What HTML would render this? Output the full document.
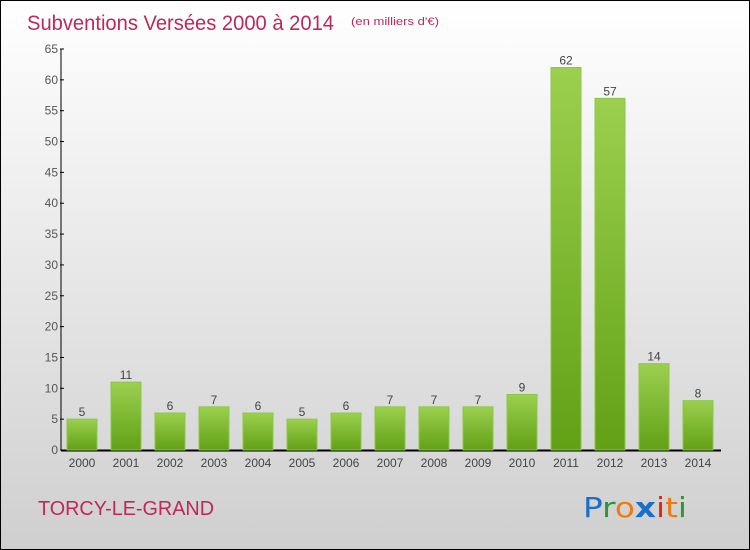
<!DOCTYPE html>
<html><head><meta charset="utf-8"><style>
body{margin:0}
#wrap{position:relative;width:748px;height:548px;border:1px solid #000;background:linear-gradient(#ffffff,#cfcfcf);font-family:"Liberation Sans",sans-serif;overflow:hidden}
</style></head><body>
<div id="wrap">
<svg id="svg" width="748" height="548" style="position:absolute;left:0;top:0">
<defs><linearGradient id="g" x1="0" y1="0" x2="0" y2="1"><stop offset="0" stop-color="#9bd04e"/><stop offset="1" stop-color="#62a016"/></linearGradient></defs>
<text x="26" y="29" font-size="21" fill="#c0275a" textLength="307" lengthAdjust="spacingAndGlyphs">Subventions Versées 2000 à 2014</text>
<text x="350" y="24" font-size="11" fill="#c0275a" textLength="88" lengthAdjust="spacingAndGlyphs">(en milliers d'€)</text>
<text x="37" y="514" font-size="20" fill="#c0275a" textLength="176" lengthAdjust="spacingAndGlyphs">TORCY-LE-GRAND</text>
<g font-size="28" font-family="DejaVu Sans, sans-serif">
<text x="582" y="516" textLength="104" lengthAdjust="spacingAndGlyphs"><tspan fill="#1a6fc8">P</tspan><tspan fill="#2a9a30">r</tspan><tspan fill="#f07a10">o</tspan><tspan fill="#1a6fc8" font-weight="bold">x</tspan><tspan fill="#e02a10">i</tspan><tspan fill="#f07a10">t</tspan><tspan fill="#2a9a30">i</tspan></text>
</g>
<g id="axes"></g><g id="bars"></g>
</svg>
</div>
<script>
const years=["2000","2001","2002","2003","2004","2005","2006","2007","2008","2009","2010","2011","2012","2013","2014"];
const values=[5,11,6,7,6,5,6,7,7,7,9,62,57,14,8];
const yTicks=[0,5,10,15,20,25,30,35,40,45,50,55,60,65];
const NS="http://www.w3.org/2000/svg";
const y0=449,yTop=48,yMax=65,x0=81,step=44,bw=30,axisX=60;
function yS(v){return y0-(v/yMax)*(y0-yTop);}
function xS(i){return x0+i*step;}
function el(t,a,p){const e=document.createElementNS(NS,t);for(const k in a)e.setAttribute(k,a[k]);p.appendChild(e);return e;}
const ax=document.getElementById('axes'),bars=document.getElementById('bars');
let l=el('line',{x1:axisX,y1:yTop,x2:axisX,y2:y0,stroke:'#000','stroke-width':1},ax);


l=el('line',{x1:axisX,y1:y0+0.5,x2:720,y2:y0+0.5,stroke:'#000','stroke-width':2},ax);


yTicks.forEach(v=>{const y=yS(v);
el('line',{x1:axisX-1,y1:y,x2:axisX+3,y2:y,stroke:'#000'},ax);
const t=el('text',{x:axisX-3,y:y+4,'font-size':12,fill:'#555','text-anchor':'end'},ax);t.textContent=v;


});
years.forEach((yr,i)=>{const cx=xS(i),v=values[i];
const r=el('rect',{x:cx-bw/2,y:yS(v),width:bw,height:y0-yS(v),fill:'url(#g)',stroke:'#8cc84a','stroke-width':1},bars);


const t=el('text',{x:cx,y:yS(v)-3,'font-size':12,fill:'#444','text-anchor':'middle'},bars);t.textContent=v;


const xl=el('text',{x:cx,y:466,'font-size':12,fill:'#444','text-anchor':'middle'},ax);xl.textContent=yr;


});
</script>
</body></html>
